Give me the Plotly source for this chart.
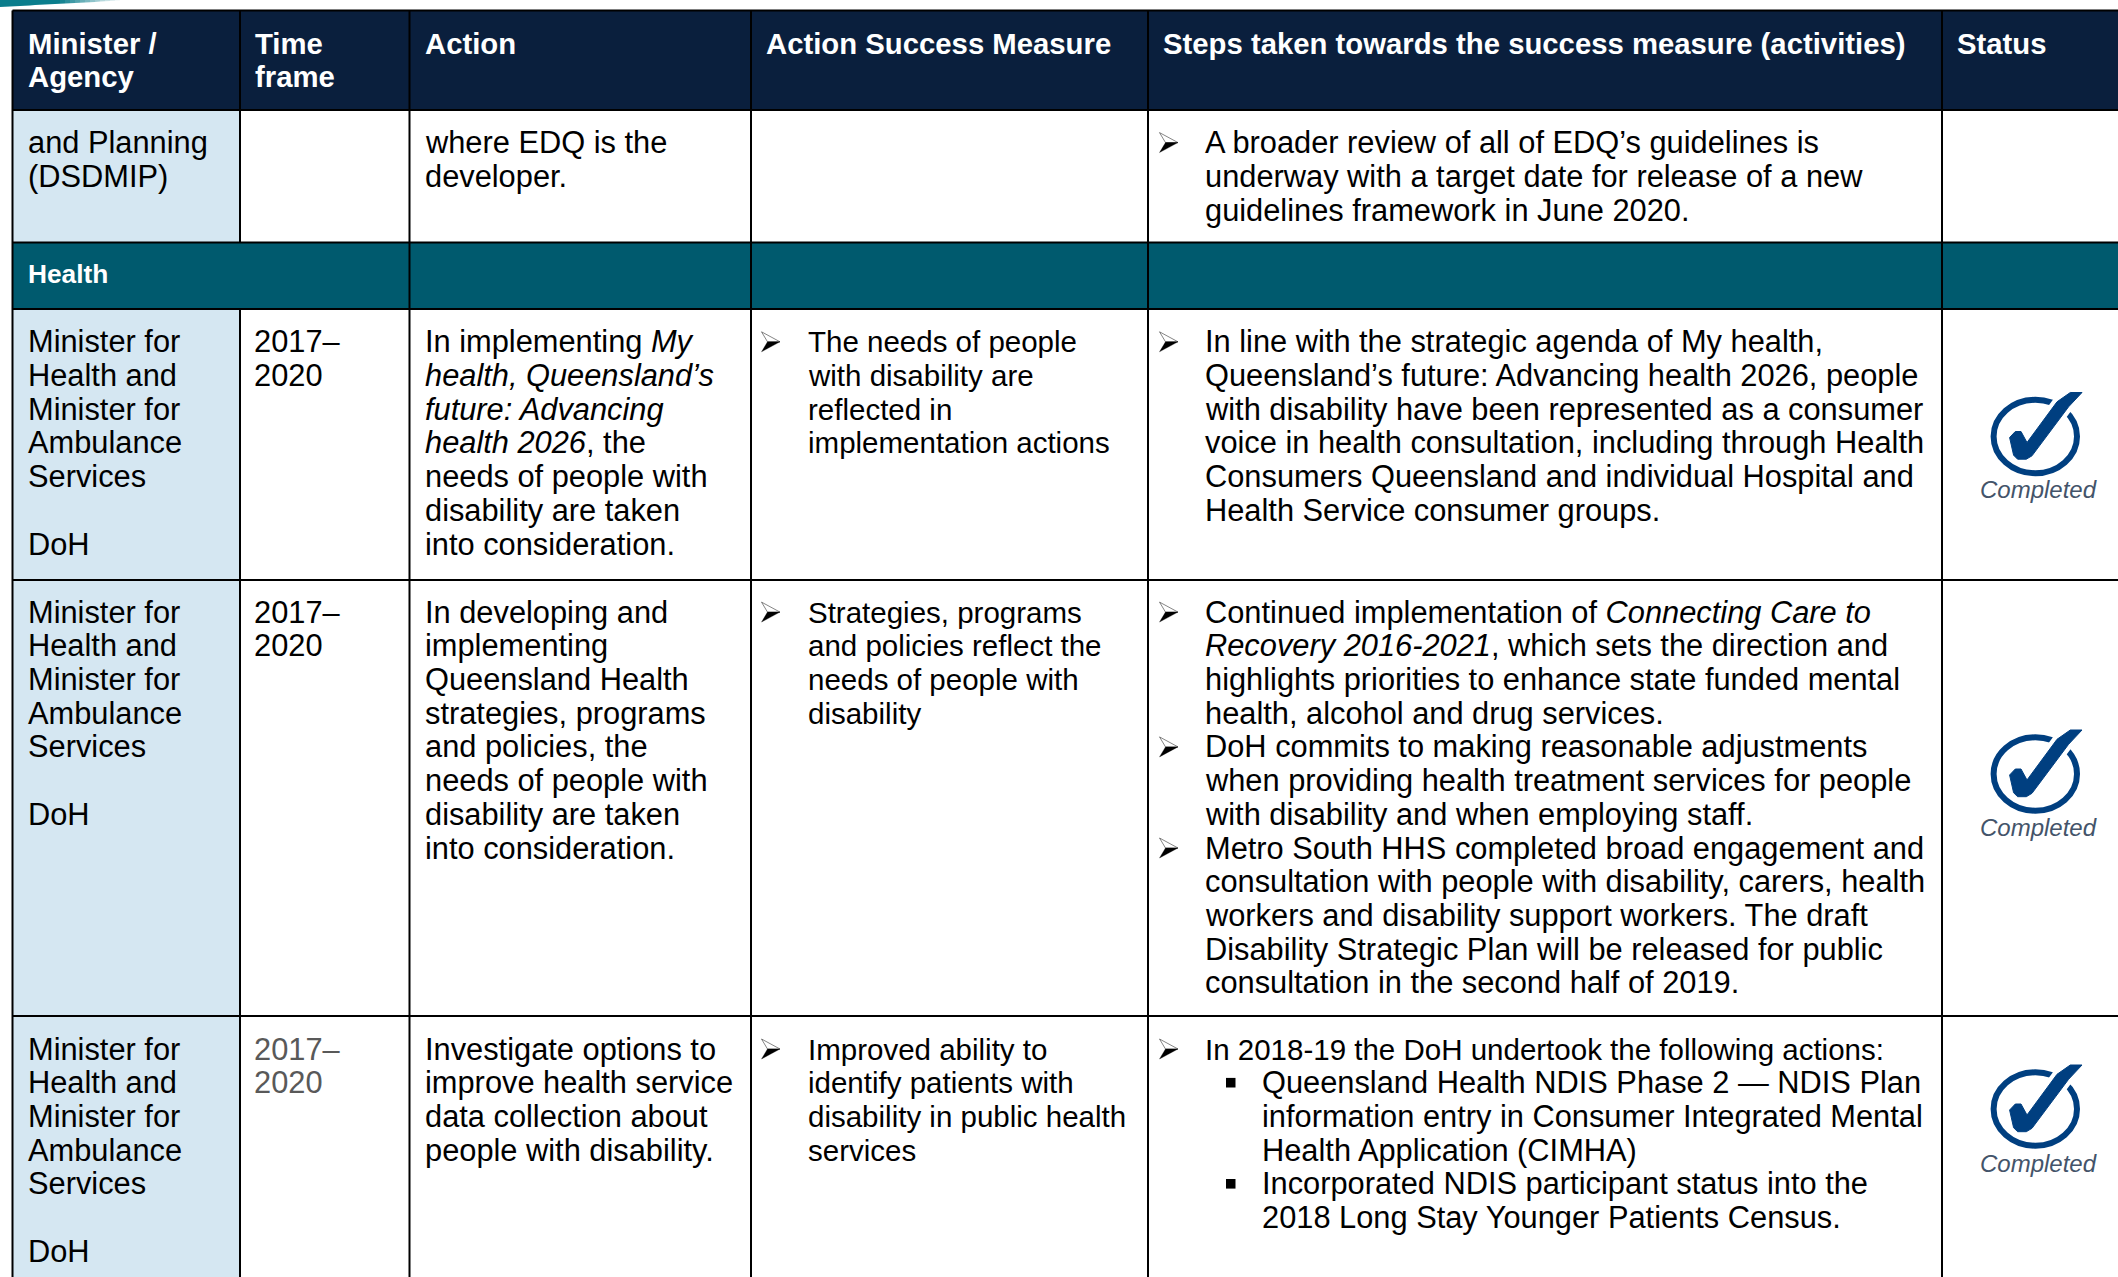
import plotly.graph_objects as go

# ---------- DATA ----------
header_cells = [["Minister /", "Agency"], ["Time", "frame"], ["Action"],
                ["Action Success Measure"],
                ["Steps taken towards the success measure (activities)"], ["Status"]]
section_title = "Health"
status_label = "Completed"

agency_rows = [
    ["and Planning", "(DSDMIP)"],
    ["Minister for", "Health and", "Minister for", "Ambulance", "Services", "", "DoH"],
    ["Minister for", "Health and", "Minister for", "Ambulance", "Services", "", "DoH"],
    ["Minister for", "Health and", "Minister for", "Ambulance", "Services", "", "DoH"],
]
time_rows = [[], ["2017–", "2020"], ["2017–", "2020"], ["2017–", "2020"]]
action_rows = [
    ["where EDQ is the", "developer."],
    ["In implementing <i>My</i>", "<i>health, Queensland’s</i>", "<i>future: Advancing</i>",
     "<i>health 2026</i>, the", "needs of people with", "disability are taken", "into consideration."],
    ["In developing and", "implementing", "Queensland Health", "strategies, programs",
     "and policies, the", "needs of people with", "disability are taken", "into consideration."],
    ["Investigate options to", "improve health service", "data collection about",
     "people with disability."],
]
measure_rows = [
    [],
    [(1, "The needs of people"), (0, "with disability are"), (0, "reflected in"),
     (0, "implementation actions")],
    [(1, "Strategies, programs"), (0, "and policies reflect the"), (0, "needs of people with"),
     (0, "disability")],
    [(1, "Improved ability to"), (0, "identify patients with"), (0, "disability in public health"),
     (0, "services")],
]
steps_rows = [
    [(1, "A broader review of all of EDQ’s guidelines is"),
     (0, "underway with a target date for release of a new"),
     (0, "guidelines framework in June 2020.")],
    [(1, "In line with the strategic agenda of My health,"),
     (0, "Queensland’s future: Advancing health 2026, people"),
     (0, "with disability have been represented as a consumer"),
     (0, "voice in health consultation, including through Health"),
     (0, "Consumers Queensland and individual Hospital and"),
     (0, "Health Service consumer groups.")],
    [(1, "Continued implementation of <i>Connecting Care to</i>"),
     (0, "<i>Recovery 2016-2021</i>, which sets the direction and"),
     (0, "highlights priorities to enhance state funded mental"),
     (0, "health, alcohol and drug services."),
     (1, "DoH commits to making reasonable adjustments"),
     (0, "when providing health treatment services for people"),
     (0, "with disability and when employing staff."),
     (1, "Metro South HHS completed broad engagement and"),
     (0, "consultation with people with disability, carers, health"),
     (0, "workers and disability support workers. The draft"),
     (0, "Disability Strategic Plan will be released for public"),
     (0, "consultation in the second half of 2019.")],
    [(4, "In 2018-19 the DoH undertook the following actions:"),
     (2, "Queensland Health NDIS Phase 2 — NDIS Plan"),
     (3, "information entry in Consumer Integrated Mental"),
     (3, "Health Application (CIMHA)"),
     (2, "Incorporated NDIS participant status into the"),
     (3, "2018 Long Stay Younger Patients Census.")],
]
row_has_status = [False, True, True, True]

# ---------- LAYOUT / STYLE ----------
W, H = 2118, 1277
FONT = "Liberation Sans"
BODY = 30.8
SMALL = 29.5
HEAD = 29.3
BAND = 26.3
PITCH = 33.7
NAVY, TEAL, PALE = "#0a1f3d", "#005a6e", "#d5e7f2"
RING, STATUS_TXT = "#003f80", "#44546a"

col_edges = [12.5, 240, 409.5, 751, 1148, 1942, 2118]
row_edges = [10.5, 110, 242.5, 309, 580, 1016, 1277]   # header, r1, band, r2, r3, r4
first_line = {"head": 43, 0: 142.6, "band": 274.3, 1: 341.8, 2: 612.1, 3: 1049}
col_text = [28, 254, 425, 808, 1205]
head_x = [28, 254.5, 425, 766, 1163, 1957]
bullet_x = {3: 761.5, 4: 1159.5}
sub_bullet_x = 1226
sub_text_x = 1262
icon_cy = [None, 436.5, 774, 1109]
label_cy = [None, 489.2, 827.2, 1163.2]
icon_cx = 2035.3
ICON_RX, ICON_RY = 41.7, 36.7
check_pts = [(-25.7, 1), (-20, -5), (-14.3, -5), (-8.3, 6), (21.7, -34.7), (35, -44), (46.7, -44),
             (33.3, -29.7), (-3.3, 19.3), (-9, 22.7), (-17.7, 22.7), (-21.7, 18.7)]

shapes, notes = [], []


def rect(x0, y0, x1, y1, color):
    shapes.append(dict(type="rect", xref="x", yref="y", x0=x0, y0=y0, x1=x1, y1=y1,
                       fillcolor=color, line_width=0, layer="below"))


def vline(x, y0, y1):
    shapes.append(dict(type="line", xref="x", yref="y", x0=x, x1=x, y0=y0, y1=y1,
                       line=dict(color="#000000", width=2)))


def hline(y, x0, x1):
    shapes.append(dict(type="line", xref="x", yref="y", x0=x0, x1=x1, y0=y, y1=y,
                       line=dict(color="#000000", width=2)))


def txt(x, y, s, size=BODY, color="#000000", family=FONT, anchor="left"):
    notes.append(dict(x=x, y=y, xref="x", yref="y", text=s, showarrow=False, xanchor=anchor,
                      yanchor="middle", borderpad=0, borderwidth=0, align="left",
                      font=dict(family=family, size=size, color=color)))


def arrow_bullet(x, y):
    # open arrowhead: white upper half, black lower half
    shapes.append(dict(type="path", xref="x", yref="y",
                       path=f"M{x},{y - 10} L{x + 18.5},{y} L{x + 6},{y} Z",
                       fillcolor="#ffffff", line=dict(color="#333333", width=0.6)))
    shapes.append(dict(type="path", xref="x", yref="y",
                       path=f"M{x},{y + 10} L{x + 18.5},{y} L{x + 6},{y} Z",
                       fillcolor="#000000", line=dict(color="#000000", width=0.3)))


# top-left decorative sliver, fading out
SEG = 26
LEN = 130
for i in range(SEG):
    x0, x1 = i * LEN / SEG, (i + 1) * LEN / SEG
    t = i / (SEG - 1)
    y0, y1 = 7 * (1 - x0 / LEN), 7 * (1 - x1 / LEN)
    k = min(1, max(0, (t - 0.45) / 0.5))
    c = [int(a + (255 - a) * k) for a in (10, 125, 140)]
    shapes.append(dict(type="path", xref="x", yref="y",
                       path=f"M{x0},0 L{x1},0 L{x1},{y1} L{x0},{y0} Z",
                       fillcolor=f"rgb({c[0]},{c[1]},{c[2]})", line_width=0, layer="below"))

# fills
rect(col_edges[0], row_edges[0], W, row_edges[1], NAVY)
rect(col_edges[0], row_edges[1], col_edges[1], row_edges[2], PALE)
rect(col_edges[0], row_edges[2], W, row_edges[3], TEAL)
rect(col_edges[0], row_edges[3], col_edges[1], H, PALE)

# rules
for y in row_edges[:-1]:
    hline(y, col_edges[0], W)
vline(col_edges[0], row_edges[0], H)
vline(col_edges[1], row_edges[0], row_edges[2])
vline(col_edges[1], row_edges[3], H)
for x in col_edges[2:-1]:
    vline(x, row_edges[0], H)

# header
for x, lines in zip(head_x, header_cells):
    for j, s in enumerate(lines):
        txt(x, first_line["head"] + j * (PITCH - 0.5), f"<b>{s}</b>", size=HEAD, color="#ffffff")
txt(col_text[0], first_line["band"], f"<b>{section_title}</b>", size=BAND, color="#ffffff")

# body
for r in range(4):
    y0 = first_line[r]
    for j, s in enumerate(agency_rows[r]):
        if s:
            txt(col_text[0], y0 + j * PITCH, s)
    for j, s in enumerate(time_rows[r]):
        txt(col_text[1], y0 + j * PITCH, s, color="#595959" if r == 3 else "#000000")
    for j, s in enumerate(action_rows[r]):
        txt(col_text[2], y0 + j * PITCH, s)
    for j, (kind, s) in enumerate(measure_rows[r]):
        y = y0 + j * PITCH
        if kind == 1:
            arrow_bullet(bullet_x[3], y)
        txt(col_text[3], y, s, size=SMALL)
    for j, (kind, s) in enumerate(steps_rows[r]):
        y = y0 + j * PITCH
        if kind in (1, 4):
            arrow_bullet(bullet_x[4], y)
        if kind == 2:
            rect(sub_bullet_x, y - 4.8, sub_bullet_x + 9.5, y + 4.8, "#000000")
        txt(sub_text_x if kind in (2, 3) else col_text[4], y, s, size=SMALL if kind == 4 else BODY)
    if row_has_status[r]:
        cy = icon_cy[r]
        shapes.append(dict(type="circle", xref="x", yref="y",
                           x0=icon_cx - ICON_RX, x1=icon_cx + ICON_RX,
                           y0=cy - ICON_RY, y1=cy + ICON_RY,
                           line=dict(color=RING, width=6), fillcolor="rgba(0,0,0,0)"))
        p = "M" + " L".join(f"{icon_cx + a:.1f},{cy + b:.1f}" for a, b in check_pts) + " Z"
        shapes.append(dict(type="path", xref="x", yref="y", path=p, fillcolor="#ffffff",
                           line=dict(color="#ffffff", width=9)))
        shapes.append(dict(type="path", xref="x", yref="y", path=p, fillcolor=RING,
                           line=dict(color=RING, width=1)))
        txt(2038, label_cy[r], f"<i>{status_label}</i>", size=24, color=STATUS_TXT, anchor="center")

fig = go.Figure()
fig.update_layout(
    width=W, height=H, autosize=False, margin=dict(l=0, r=0, t=0, b=0, pad=0),
    paper_bgcolor="#ffffff", plot_bgcolor="#ffffff", showlegend=False, hovermode=False,
    xaxis=dict(range=[0, W], visible=False, fixedrange=True),
    yaxis=dict(range=[H, 0], visible=False, fixedrange=True),
    shapes=shapes, annotations=notes,
)
fig.write_html("out.html", config=dict(displayModeBar=False),
               post_script="document.body.style.margin='0';document.body.style.overflow='hidden';")
